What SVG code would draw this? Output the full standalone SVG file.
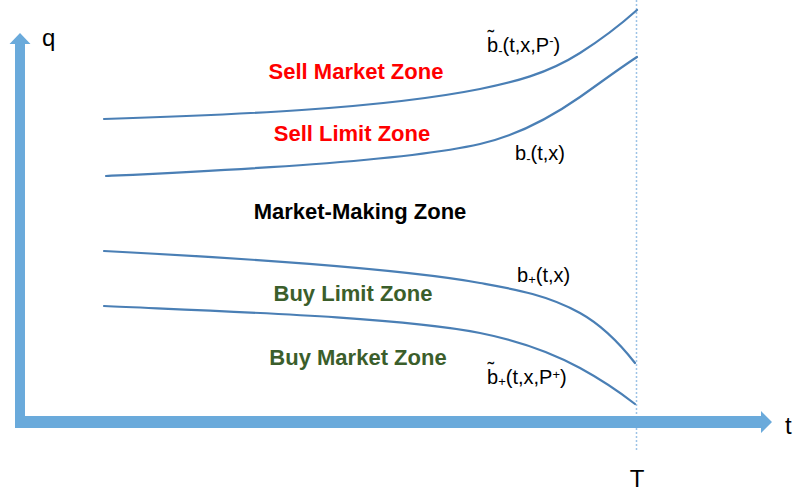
<svg xmlns="http://www.w3.org/2000/svg" width="797" height="494" viewBox="0 0 797 494">
<style>
.axis{fill:#6AAADB}
.curve{fill:none;stroke:#4A7FB5;stroke-width:2.2;stroke-linecap:round}
.zone{font-family:"Liberation Sans",Arial,sans-serif;font-weight:bold;font-size:22px;text-anchor:middle}
.red{fill:#FF0000}
.green{fill:#3B5E2B}
.blk{fill:#000000}
.lbl{font-family:"Liberation Sans",Arial,sans-serif;font-size:20px;fill:#000}
.sm{font-size:13px}
.ax{font-family:"Liberation Sans",Arial,sans-serif;font-size:24px;fill:#000}
</style>
<rect width="797" height="494" fill="#FFFFFF"/>
<g id="axes">
<line x1="636.5" y1="0" x2="636.5" y2="452" stroke="#9DC3E6" stroke-width="1.5" stroke-dasharray="2 2"/>
<polygon class="axis" points="20,33 30.5,44 25,44 25,416 761,416 761,411 772,422 761,433 761,428 15,428 15,44 9.5,44"/>
<text class="ax" x="42" y="46">q</text>
<text class="ax" x="785" y="434">t</text>
<text class="ax" x="637" y="487" text-anchor="middle">T</text>
</g>
<g id="connectors">
<path id="b-tilde-minus" class="curve" d="M104,119 C230,115 380,109 480,89 C513,82.4 547,74 580,53 C599,40.9 618,27 637,10"/>
<path id="b-minus" class="curve" d="M106,176 C230,170 400,162 480,144 C513,136.6 547,120 580,97 C599,83.7 618,69.4 637,57"/>
<path id="b-plus" class="curve" d="M104,251 C230,257.3 400,268.6 480,283 C513,289 547,294.5 580,313 C598,323 617,340 635,363"/>
<path id="b-tilde-plus" class="curve" d="M104,306 C230,311.7 400,317 480,333 C513,339.6 547,350 580,368 C598,377.8 617,390 635,404"/>
</g>
<g id="zone-sell-market"><text class="zone red" x="356" y="79">Sell Market Zone</text></g>
<g id="zone-sell-limit"><text class="zone red" x="352" y="141">Sell Limit Zone</text></g>
<g id="zone-market-making"><text class="zone blk" x="360" y="219">Market-Making Zone</text></g>
<g id="zone-buy-limit"><text class="zone green" x="353" y="301">Buy Limit Zone</text></g>
<g id="zone-buy-market"><text class="zone green" x="358" y="365">Buy Market Zone</text></g>
<g id="label-b-tilde-minus">
<text class="lbl" x="487" y="52">b<tspan class="sm" dy="3">-</tspan><tspan dy="-3">(t,x,P</tspan><tspan class="sm" dy="-7">-</tspan><tspan dy="7">)</tspan><tspan x="487.5" y="44">˜</tspan></text>
</g>
<g id="label-b-minus">
<text class="lbl" x="515" y="160">b<tspan class="sm" dy="3">-</tspan><tspan dy="-3">(t,x)</tspan></text>
</g>
<g id="label-b-plus">
<text class="lbl" x="517" y="282">b<tspan class="sm" dy="2">+</tspan><tspan dy="-2">(t,x)</tspan></text>
</g>
<g id="label-b-tilde-plus">
<text class="lbl" x="487" y="384">b<tspan class="sm" dy="2">+</tspan><tspan dy="-2">(t,x,P</tspan><tspan class="sm" dy="-5">+</tspan><tspan dy="5">)</tspan><tspan x="487.5" y="376">˜</tspan></text>
</g>
</svg>
